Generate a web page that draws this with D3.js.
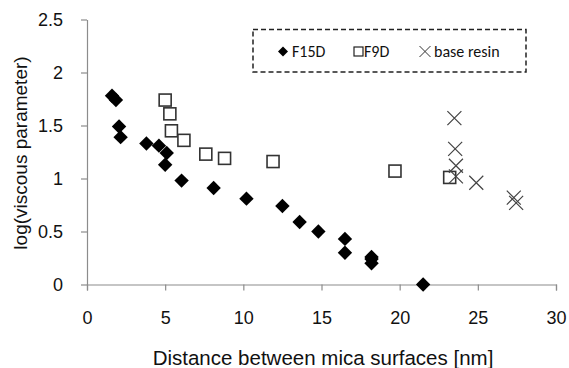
<!DOCTYPE html>
<html><head><meta charset="utf-8">
<script src="https://cdn.jsdelivr.net/npm/d3@7/dist/d3.min.js"></script>
<style>body{margin:0;background:#fff}svg{display:block}</style>
</head><body>
<script>
const xTicks = [0, 5, 10, 15, 20, 25, 30];
const yTicks = [0, 0.5, 1, 1.5, 2, 2.5];
const yTickLabels = ["0", "0.5", "1", "1.5", "2", "2.5"];
const seriesNames = ["F15D", "F9D", "base resin"];
const f15dX = [1.6, 1.85, 2.05, 2.15, 3.8, 4.6, 5.1, 5.0, 6.05, 8.1, 10.2, 12.5, 13.6, 14.8, 16.5, 16.5, 18.2, 18.2, 18.2, 21.5];
const f15dY = [1.78, 1.74, 1.49, 1.39, 1.33, 1.31, 1.24, 1.13, 0.98, 0.91, 0.81, 0.74, 0.59, 0.50, 0.43, 0.30, 0.26, 0.24, 0.20, 0.0];
const f9dX = [5.0, 5.3, 5.4, 6.2, 7.6, 8.8, 11.9, 19.7, 23.2];
const f9dY = [1.74, 1.61, 1.45, 1.36, 1.23, 1.19, 1.16, 1.07, 1.01];
const resinX = [23.5, 23.55, 23.6, 23.6, 24.9, 27.3, 27.45];
const resinY = [1.57, 1.28, 1.12, 1.02, 0.96, 0.82, 0.77];

const W = 569, H = 368;
const svg = d3.select("body").append("svg").attr("width", W).attr("height", H);
const x = d3.scaleLinear().domain([0, 30]).range([87, 556]);
const y = d3.scaleLinear().domain([0, 2.5]).range([284.5, 19.5]);
const axisColor = "#8c8c8c";
const font = "'Liberation Sans', Arial, sans-serif";

// x axis
const gx = svg.append("g").attr("transform", `translate(0,${y(0)})`)
  .call(d3.axisBottom(x).tickValues(xTicks).tickSizeInner(6).tickSizeOuter(6).tickPadding(21));
gx.select(".domain").attr("stroke", axisColor).attr("stroke-width", 1.2);
gx.selectAll(".tick line").attr("stroke", axisColor).attr("stroke-width", 1.2);
gx.selectAll(".tick text").attr("font-family", font).attr("font-size", 18).attr("fill", "#111");

// y axis
const gy = svg.append("g").attr("transform", `translate(${x(0)},0)`)
  .call(d3.axisLeft(y).tickValues(yTicks).tickFormat((d, i) => yTickLabels[i]).tickSizeInner(6).tickSizeOuter(0).tickPadding(18));
gy.select(".domain").attr("stroke", axisColor).attr("stroke-width", 1.2);
gy.selectAll(".tick line").attr("stroke", axisColor).attr("stroke-width", 1.2);
gy.selectAll(".tick text").attr("font-family", font).attr("font-size", 18).attr("fill", "#111");

// axis titles
svg.append("text").attr("x", 323).attr("y", 365)
  .attr("text-anchor", "middle").attr("font-family", font).attr("font-size", 20.5).attr("fill", "#111")
  .text("Distance between mica surfaces [nm]");
svg.append("text").attr("transform", `translate(27,153) rotate(-90)`)
  .attr("text-anchor", "middle").attr("font-family", font).attr("font-size", 19).attr("fill", "#111")
  .text("log(viscous parameter)");

// symbols
const diamond = s => `M0,${-s}L${s},0L0,${s}L${-s},0Z`;
const plot = svg.append("g");
plot.selectAll("path.f15d").data(f15dX.map((v, i) => [v, f15dY[i]])).enter().append("path")
  .attr("class", "f15d").attr("d", diamond(7.2))
  .attr("transform", d => `translate(${x(d[0])},${y(d[1])})`).attr("fill", "#000");
plot.selectAll("rect.f9d").data(f9dX.map((v, i) => [v, f9dY[i]])).enter().append("rect")
  .attr("class", "f9d").attr("x", d => x(d[0]) - 6).attr("y", d => y(d[1]) - 6)
  .attr("width", 12).attr("height", 12).attr("fill", "#fff").attr("stroke", "#333").attr("stroke-width", 1.6);
plot.selectAll("path.resin").data(resinX.map((v, i) => [v, resinY[i]])).enter().append("path")
  .attr("class", "resin").attr("d", "M-7,-7L7,7M-7,7L7,-7")
  .attr("transform", d => `translate(${x(d[0])},${y(d[1])})`).attr("stroke", "#444").attr("stroke-width", 1.2).attr("fill", "none");

// legend
const lg = svg.append("g");
lg.append("rect").attr("x", 253).attr("y", 29.5).attr("width", 273).attr("height", 42.5)
  .attr("fill", "none").attr("stroke", "#222").attr("stroke-width", 1.5).attr("stroke-dasharray", "5,3");
const lfont = "Carlito, Lato, 'Open Sans', sans-serif";
const ly = 51.5;
const lsize = 16;
lg.append("path").attr("d", diamond(5)).attr("transform", `translate(283,${ly})`).attr("fill", "#000");
lg.append("text").attr("x", 292).attr("y", ly + 5.5).attr("font-family", lfont).attr("font-size", lsize).attr("fill", "#111").text(seriesNames[0]);
lg.append("rect").attr("x", 354).attr("y", ly - 4.5).attr("width", 9).attr("height", 9).attr("fill", "#fff").attr("stroke", "#222").attr("stroke-width", 1.2);
lg.append("text").attr("x", 364).attr("y", ly + 5.5).attr("font-family", lfont).attr("font-size", lsize).attr("fill", "#111").text(seriesNames[1]);
lg.append("path").attr("d", "M-5.5,-5.5L5.5,5.5M-5.5,5.5L5.5,-5.5").attr("transform", `translate(425,${ly})`).attr("stroke", "#333").attr("stroke-width", 1).attr("fill", "none");
lg.append("text").attr("x", 434).attr("y", ly + 5.5).attr("font-family", lfont).attr("font-size", lsize).attr("fill", "#111").text(seriesNames[2]);
</script>
</body></html>
